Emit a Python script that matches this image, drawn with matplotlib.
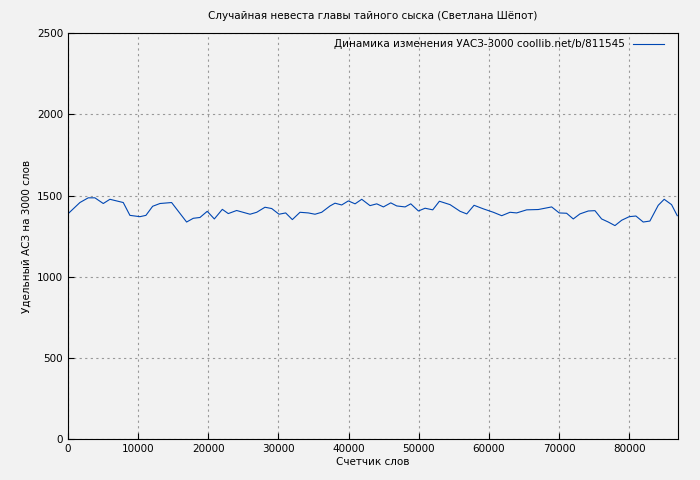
import matplotlib
matplotlib.use("Agg")
import matplotlib.pyplot as plt

words = [0, 1710, 2900, 3850, 5040, 5990, 7890, 8840, 10270, 11120, 12080, 13120, 14780,
         16920, 17870, 18820, 19860, 20870, 22010, 22860, 24050, 25960, 26910, 28090, 29050,
         30090, 31040, 31990, 33080, 34270, 35220, 36170, 37360, 38070, 39020, 39970, 40930,
         41880, 43060, 44020, 44970, 46020, 46870, 48060, 48870, 49960, 50910, 52000, 52950,
         54470, 55900, 56850, 57890, 59220, 60640, 61830, 63010, 63960, 65390, 67050, 68950,
         70030, 71080, 72030, 72980, 74170, 75120, 76070, 77020, 77970, 78930, 80010, 80960,
         82000, 82950, 84140, 84990, 86040, 86850]
uasz = [1387, 1457, 1486, 1486, 1451, 1477, 1457, 1378, 1370, 1378, 1434, 1451, 1457,
        1337, 1360, 1365, 1403, 1356, 1415, 1389, 1408, 1385, 1397, 1428, 1420,
        1385, 1393, 1352, 1397, 1393, 1385, 1397, 1436, 1453, 1442, 1467, 1449,
        1477, 1438, 1449, 1430, 1455, 1436, 1430, 1449, 1405, 1422, 1412, 1465,
        1444, 1403, 1387, 1440, 1418, 1397, 1376, 1397, 1393, 1412, 1414, 1430,
        1393, 1391, 1356, 1387, 1405, 1407, 1356, 1337, 1315, 1348, 1370, 1374,
        1337, 1343, 1440, 1477, 1444, 1376]

bg = '#f2f2f2'
plt.rcParams['font.family'] = 'DejaVu Sans'
plt.rcParams['font.size'] = 7.5
fig, ax = plt.subplots(figsize=(7, 4.8), dpi=100)
fig.patch.set_facecolor(bg)
ax.set_facecolor(bg)
fig.subplots_adjust(left=0.097, right=0.969, top=0.931, bottom=0.085)

ax.plot(words, uasz, color='#0047b3', linewidth=0.8,
        label='Динамика изменения УАСЗ-3000 coollib.net/b/811545')
ax.set_xlim(0, 87000)
ax.set_ylim(0, 2500)
ax.set_xticks(range(0, 87000, 10000))
ax.set_yticks(range(0, 2501, 500))
ax.grid(True, color='#999999', linestyle=(0, (2, 3)), linewidth=0.8)
ax.tick_params(direction='in', length=4)
ax.set_title('Случайная невеста главы тайного сыска (Светлана Шёпот)', fontsize=7.5, pad=10)
ax.set_xlabel('Счетчик слов', labelpad=2)
ax.set_ylabel('Удельный АСЗ на 3000 слов')
ax.legend(loc='upper right', frameon=False, markerfirst=False, handlelength=3,
          bbox_to_anchor=(0.987, 1.0), borderaxespad=0.2)
fig.savefig('out.png', dpi=100, facecolor=bg)
